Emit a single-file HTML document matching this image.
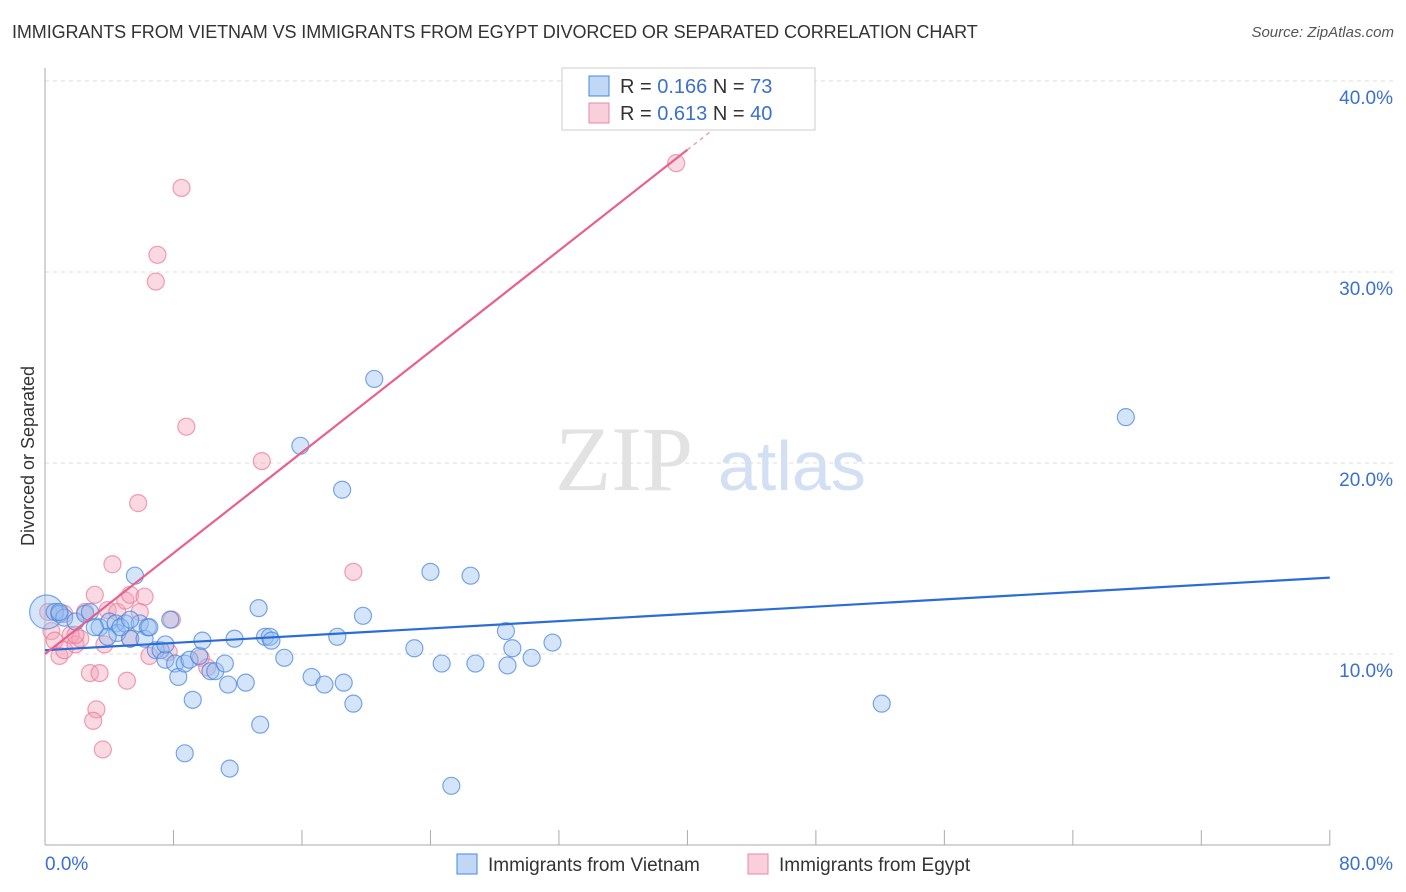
<!DOCTYPE html>
<html><head><meta charset="utf-8">
<style>
body{margin:0;background:#fff;font-family:"Liberation Sans",sans-serif;}
#wrap{position:relative;width:1406px;height:892px;overflow:hidden;}
.title{position:absolute;left:12px;top:22px;font-size:18px;color:#333;letter-spacing:-0.1px}
.source{position:absolute;right:12px;top:24px;font-size:15px;color:#555;font-style:italic}
</style></head>
<body>
<div id="wrap">
<div class="title">IMMIGRANTS FROM VIETNAM VS IMMIGRANTS FROM EGYPT DIVORCED OR SEPARATED CORRELATION CHART</div>
<div class="source">Source: ZipAtlas.com</div>
<svg id="chart" width="1406" height="892" style="position:absolute;left:0;top:0"></svg>
</div>
<script>
const xTicks=[0,80];
const yTicks=[10,20,30,40];
const blueX=[0.1,0.6,0.9,1.2,1.9,2.5,2.8,3.4,4.0,4.4,4.5,5.0,5.3,5.6,5.9,6.2,6.4,6.9,7.2,7.5,7.8,8.1,8.3,8.7,9.0,9.2,9.6,9.8,10.3,10.6,11.2,11.4,11.8,12.5,13.3,13.4,13.7,14.0,14.1,14.9,15.9,16.6,17.4,18.2,18.6,18.5,19.2,19.8,20.5,23.0,24.0,24.7,26.5,26.8,28.7,28.8,29.1,30.3,31.6,52.1,67.3,8.7,11.5,25.3,3.9,6.5,7.5,3.1,4.7,5.3,0.9];
const blueY=[12.2,12.2,12.1,11.9,11.7,12.1,12.2,11.4,11.7,11.6,11.1,11.6,10.8,14.1,11.6,10.8,11.4,10.2,10.2,9.7,11.8,9.5,8.8,9.5,9.7,7.6,9.9,10.7,9.1,9.1,9.5,8.4,10.8,8.5,12.4,6.3,10.9,10.9,10.7,9.8,20.9,8.8,8.4,10.9,8.5,18.6,7.4,12.0,24.4,10.3,14.3,9.5,14.1,9.5,11.2,9.4,10.3,9.8,10.6,7.4,22.4,4.8,4.0,3.1,10.9,11.4,10.5,11.4,11.4,11.8,12.2];
const pinkX=[0.2,0.4,0.6,0.9,1.2,1.6,1.9,2.2,2.5,2.8,3.1,3.2,3.0,3.4,3.6,3.9,4.2,4.5,5.0,5.1,5.3,5.3,5.8,6.2,6.5,6.9,7.0,7.7,7.9,8.5,8.8,9.7,10.1,13.5,19.2,39.3,1.9,3.7,1.2,5.9];
const pinkY=[12.2,11.2,10.7,9.9,10.2,11.0,10.5,10.8,12.2,9.0,13.1,7.1,6.5,9.0,5.0,12.3,14.7,12.2,12.8,8.6,13.1,10.8,17.9,13.0,9.9,29.5,30.9,10.1,11.8,34.4,21.9,9.8,9.3,20.1,14.3,35.7,11.0,10.5,12.1,12.2];
const blueLine=[0,10.2,80,14.0];
const pinkLine=[0,10.0,40,36.4];
const svg=document.getElementById('chart');
const NS='http://www.w3.org/2000/svg';
const X=v=>45+v*16.06;
const Y=v=>845-v*19.1;
function mk(t,a){const e=document.createElementNS(NS,t);for(const k in a)e.setAttribute(k,a[k]);svg.appendChild(e);return e;}
// gridlines
yTicks.forEach(t=>{
 const g=mk('line',{x1:45,x2:1393,y1:Y(t),y2:Y(t),stroke:'#ddd','stroke-dasharray':'4,4'});
 
 
 const l=mk('text',{x:1393,y:Y(t)+23,'text-anchor':'end','font-size':19,fill:'#3b6fd0','font-family':'Liberation Sans'});
 l.textContent=t.toFixed(1)+'%';
 
 
});
const ax=mk('line',{x1:45,x2:45,y1:68,y2:845,stroke:'#aaa'});


const bx=mk('line',{x1:45,x2:1330,y1:845,y2:845,stroke:'#aaa'});


for(let i=0;i<=10;i++){const t=mk('line',{x1:X(i*8),x2:X(i*8),y1:830,y2:845,stroke:'#aaa'});
 
 }
xTicks.forEach((t,i)=>{const l=mk('text',{x:i==0?45:1393,y:870,'text-anchor':i==0?'start':'end','font-size':19,fill:'#3b6fd0','font-family':'Liberation Sans'});
 l.textContent=t.toFixed(1)+'%';
 
 });
const yt=mk('text',{x:34,y:456,'text-anchor':'middle','font-size':18,fill:'#333',transform:'rotate(-90 34 456)','font-family':'Liberation Sans'});
yt.textContent='Divorced or Separated';


// watermark
const w1=mk('text',{x:555,y:490,'font-size':92,fill:'#e2e2e2','font-family':'Liberation Serif'});w1.textContent='ZIP';


const w2=mk('text',{x:718,y:490,'font-size':70,fill:'#d3e0f4','font-family':'Liberation Sans'});w2.textContent='atlas';


// points
pinkX.forEach((v,i)=>{const c=mk('circle',{cx:X(v),cy:Y(pinkY[i]),r:8.5,fill:'rgba(244,160,185,0.4)',stroke:'rgba(232,120,150,0.7)','stroke-width':1.2});
 
 });
blueX.forEach((v,i)=>{const c=mk('circle',{cx:X(v),cy:Y(blueY[i]),r:i==0?17:8.5,fill:'rgba(150,190,240,0.4)',stroke:'rgba(70,130,220,0.7)','stroke-width':1.2});
 
 });
const bl=mk('line',{x1:X(blueLine[0]),y1:Y(blueLine[1]),x2:X(blueLine[2]),y2:Y(blueLine[3]),stroke:'#2a6dd6','stroke-width':2.2});


const pl=mk('line',{x1:X(pinkLine[0]),y1:Y(pinkLine[1]),x2:X(pinkLine[2]),y2:Y(pinkLine[3]),stroke:'#e8608e','stroke-width':2.2});


const slope=(pinkLine[3]-pinkLine[1])/(pinkLine[2]-pinkLine[0]);
const pd=mk('line',{x1:X(pinkLine[2]),y1:Y(pinkLine[3]),x2:X(42),y2:Y(pinkLine[1]+slope*42),stroke:'#e8a0b8','stroke-width':1.5,'stroke-dasharray':'4,4'});


// top legend
const lb=mk('rect',{x:562,y:68,width:253,height:62,fill:'#fff',stroke:'#ccc'});


[['rgba(150,190,240,0.6)','#4a86e0','0.166','73',86],['rgba(244,160,185,0.5)','#e68aa8','0.613','40',113]].forEach(r=>{
 const s=mk('rect',{x:589,y:r[4]-10,width:20,height:20,fill:r[0],stroke:r[1]});
 
 
 const t=mk('text',{x:620,y:r[4]+7,'font-size':20,fill:'#333','font-family':'Liberation Sans'});
 t.innerHTML='R = <tspan fill="#3b6fd0">'+r[2]+'</tspan>   N = <tspan fill="#3b6fd0">'+r[3]+'</tspan>';
 t.setAttribute('xml:space','preserve');
 
 
});
// bottom legend
[['rgba(150,190,240,0.6)','#4a86e0','Immigrants from Vietnam',457],['rgba(244,160,185,0.5)','#e68aa8','Immigrants from Egypt',748]].forEach(r=>{
 const s=mk('rect',{x:r[3],y:854,width:20,height:20,fill:r[0],stroke:r[1]});
 
 
 const t=mk('text',{x:r[3]+31,y:871,'font-size':19,fill:'#333','font-family':'Liberation Sans'});
 t.textContent=r[2];
 
 
});
</script>
</body></html>
